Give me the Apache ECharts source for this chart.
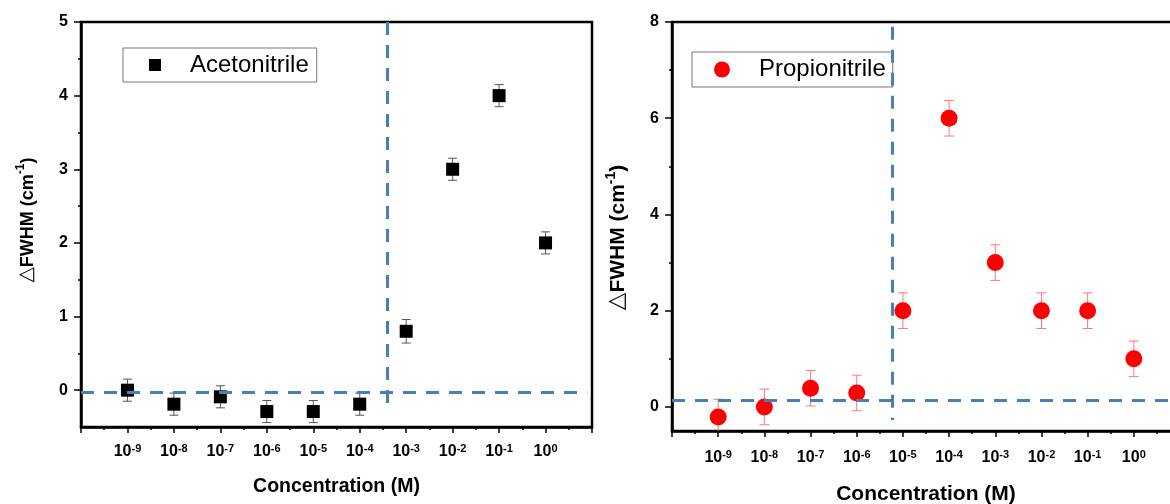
<!DOCTYPE html>
<html>
<head>
<meta charset="utf-8">
<script src="https://cdn.jsdelivr.net/npm/echarts@6/dist/echarts.min.js"></script>
<style>html,body{margin:0;padding:0;background:#fff;overflow:hidden}#c{width:1190px;height:504px}</style>
</head>
<body>
<div id="c"></div>
<script>
// log10 of concentration (M)
const exponents = [-9, -8, -7, -6, -5, -4, -3, -2, -1, 0];
const xTickLabels = ['10{s|-9}', '10{s|-8}', '10{s|-7}', '10{s|-6}', '10{s|-5}', '10{s|-4}', '10{s|-3}', '10{s|-2}', '10{s|-1}', '10{s|0}'];
const acetonitrile = [0, -0.19, -0.09, -0.29, -0.29, -0.19, 0.8, 3.0, 4.0, 2.0];
const acetonitrileErr = [0.15, 0.15, 0.15, 0.15, 0.15, 0.15, 0.16, 0.15, 0.15, 0.15];
const propionitrile = [-0.21, 0, 0.39, 0.29, 2.0, 6.0, 3.0, 2.0, 2.0, 1.0];
const propionitrileErr = [0.37, 0.37, 0.37, 0.37, 0.37, 0.37, 0.37, 0.37, 0.37, 0.37];
const leftYTicks = [0, 1, 2, 3, 4, 5];
const leftYMinor = [0.5, 1.5, 2.5, 3.5, 4.5];
const rightYTicks = [0, 2, 4, 6, 8];
const rightYMinor = [1, 3, 5, 7];
// reference lines: vertical [x, yTop, yBottom]; horizontal [xStart, xEnd, y]
const leftVLine = [-3.41, 5, -0.31];
const leftHLine = [-10, 0.9, -0.03];
const rightVLine = [-5.22, 7.9, -0.27];
const rightHLine = [-10, 1, 0.13];

const FONT = "'Liberation Sans', Arial, sans-serif";
const BLUE = '#4a7ebb';

function xLabel(v) {
  const i = exponents.indexOf(Math.round(v));
  if (Math.abs(v - Math.round(v)) > 1e-6 || i < 0) return '';
  return xTickLabels[i];
}
const xRich = {
  s: { fontSize: 11, fontWeight: 'bold', fontFamily: FONT, color: '#000', verticalAlign: 'top', lineHeight: 12 }
};

function xAxis(grid, gap, margin, nameSize) {
  return {
    gridIndex: grid, type: 'value', min: -10, max: 1, interval: 1,
    axisLine: { show: true, onZero: false, lineStyle: { color: '#000', width: 2.5 } },
    axisTick: { show: true, length: 6, lineStyle: { color: '#000', width: 1.5 } },
    minorTick: { show: true, splitNumber: 2, length: 3, lineStyle: { color: '#000', width: 1.5 } },
    splitLine: { show: false }, minorSplitLine: { show: false },
    axisLabel: { margin: margin, formatter: xLabel, fontSize: 16, fontWeight: 'bold', fontFamily: FONT, color: '#000', lineHeight: 18, verticalAlign: 'top', rich: xRich },
    name: 'Concentration (M)', nameLocation: 'middle', nameGap: gap,
    nameTextStyle: { fontSize: nameSize, fontWeight: 'bold', fontFamily: FONT, color: '#000' }
  };
}
function yAxisMain(grid, min, max, ticks, gap, size, pad) {
  return {
    gridIndex: grid, type: 'value', min: min, max: max, position: 'left',
    axisLine: { show: true, onZero: false, lineStyle: { color: '#000', width: 2.5 } },
    axisTick: { show: true, length: 7, customValues: ticks, lineStyle: { color: '#000', width: 1.5 } },
    splitLine: { show: false },
    axisLabel: { customValues: ticks, margin: 13, fontSize: 16, fontWeight: 'bold', fontFamily: FONT, color: '#000' },
    name: '{d|△}{b|FWHM (cm}{s|-1}{b|)}', nameLocation: 'middle', nameGap: gap,
    nameTextStyle: {
      color: '#000', fontFamily: FONT, fontSize: size, fontWeight: 'bold', padding: pad,
      rich: {
        d: { fontSize: size + 2, fontWeight: 'normal', fontFamily: "'DejaVu Sans', sans-serif", color: '#000', lineHeight: size + 4, verticalAlign: 'bottom' },
        b: { fontSize: size, fontWeight: 'bold', fontFamily: FONT, color: '#000', lineHeight: size + 4, verticalAlign: 'bottom' },
        s: { fontSize: Math.round(size * 0.65), fontWeight: 'bold', fontFamily: FONT, color: '#000', lineHeight: Math.round(size * 0.7), verticalAlign: 'top' }
      }
    }
  };
}
function yAxisMinor(grid, min, max, ticks) {
  return {
    gridIndex: grid, type: 'value', min: min, max: max, position: 'left', offset: 0,
    axisLine: { show: false, onZero: false },
    axisTick: { show: true, length: 3, customValues: ticks, lineStyle: { color: '#000', width: 1.5 } },
    axisLabel: { show: false }, splitLine: { show: false }
  };
}
function errRender(capHalf, color) {
  return function (params, api) {
    const x = api.value(0), y = api.value(1), e = api.value(2);
    const t = api.coord([x, y + e]), b = api.coord([x, y - e]);
    const st = { stroke: color, lineWidth: 1 };
    return {
      type: 'group', children: [
        { type: 'line', shape: { x1: t[0], y1: t[1], x2: b[0], y2: b[1] }, style: st },
        { type: 'line', shape: { x1: t[0] - capHalf, y1: t[1], x2: t[0] + capHalf, y2: t[1] }, style: st },
        { type: 'line', shape: { x1: b[0] - capHalf, y1: b[1], x2: b[0] + capHalf, y2: b[1] }, style: st }
      ]
    };
  };
}
function refLines(v, h) {
  return {
    silent: true, symbol: ['none', 'none'], label: { show: false }, animation: false,
    lineStyle: { color: BLUE, width: 3, type: [13, 10], opacity: 1 },
    emphasis: { disabled: true },
    data: [
      [{ coord: [v[0], v[1]] }, { coord: [v[0], v[2]] }],
      [{ coord: [h[0], h[2]] }, { coord: [h[1], h[2]] }]
    ]
  };
}

const chart = echarts.init(document.getElementById('c'), null, { renderer: 'canvas' });
chart.setOption({
  animation: false,
  backgroundColor: '#fff',
  grid: [
    { left: 81, top: 22, width: 511, height: 405, show: true, borderColor: '#000', borderWidth: 2.5, backgroundColor: 'transparent', containLabel: false, outerBoundsMode: 'none' },
    { left: 672, top: 22, width: 508, height: 409, show: true, borderColor: '#000', borderWidth: 2.5, backgroundColor: 'transparent', containLabel: false, outerBoundsMode: 'none' }
  ],
  legend: [
    {
      data: ['Acetonitrile'], left: 123, top: 48, orient: 'vertical',
      borderColor: '#777', borderWidth: 1, padding: [4, 8, 4, 26],
      itemWidth: 12, itemHeight: 12, icon: 'rect',
      textStyle: { fontSize: 24, fontFamily: FONT, color: '#000', padding: [0, 0, 0, 24], lineHeight: 26 }
    },
    {
      data: ['Propionitrile'], left: 692, top: 52, orient: 'vertical',
      borderColor: '#777', borderWidth: 1, padding: [4, 7, 4, 22],
      itemWidth: 16, itemHeight: 16, icon: 'circle',
      textStyle: { fontSize: 24, fontFamily: FONT, color: '#000', padding: [0, 0, 0, 24], lineHeight: 27 }
    }
  ],
  xAxis: [xAxis(0, 50, 16, 19.5), xAxis(1, 53, 18, 21)],
  yAxis: [
    yAxisMain(0, -0.5, 5, leftYTicks, 44, 18, [0, 0, 0, 9]),
    yAxisMinor(0, -0.5, 5, leftYMinor),
    yAxisMain(1, -0.5, 8, rightYTicks, 43, 21, [0, 22, 0, 0]),
    yAxisMinor(1, -0.5, 8, rightYMinor)
  ],
  series: [
    {
      name: 'Acetonitrile error', type: 'custom', xAxisIndex: 0, yAxisIndex: 0, z: 2, silent: true,
      renderItem: errRender(4.5, '#555'), encode: { x: 0, y: 1 },
      data: exponents.map((x, i) => [x, acetonitrile[i], acetonitrileErr[i]])
    },
    {
      name: 'Acetonitrile', type: 'scatter', xAxisIndex: 0, yAxisIndex: 0, z: 3,
      symbol: 'rect', symbolSize: 13, itemStyle: { color: '#000', opacity: 1 },
      data: exponents.map((x, i) => [x, acetonitrile[i]]),
      markLine: refLines(leftVLine, leftHLine)
    },
    {
      name: 'Propionitrile error', type: 'custom', xAxisIndex: 1, yAxisIndex: 2, z: 2, silent: true, clip: true,
      renderItem: errRender(5, '#ff7777'), encode: { x: 0, y: 1 },
      data: exponents.map((x, i) => [x, propionitrile[i], propionitrileErr[i]])
    },
    {
      name: 'Propionitrile', type: 'scatter', xAxisIndex: 1, yAxisIndex: 2, z: 3,
      symbol: 'circle', symbolSize: 17, itemStyle: { color: '#ff0000', opacity: 1 },
      data: exponents.map((x, i) => [x, propionitrile[i]]),
      markLine: refLines(rightVLine, rightHLine)
    }
  ]
});
</script>
</body>
</html>
